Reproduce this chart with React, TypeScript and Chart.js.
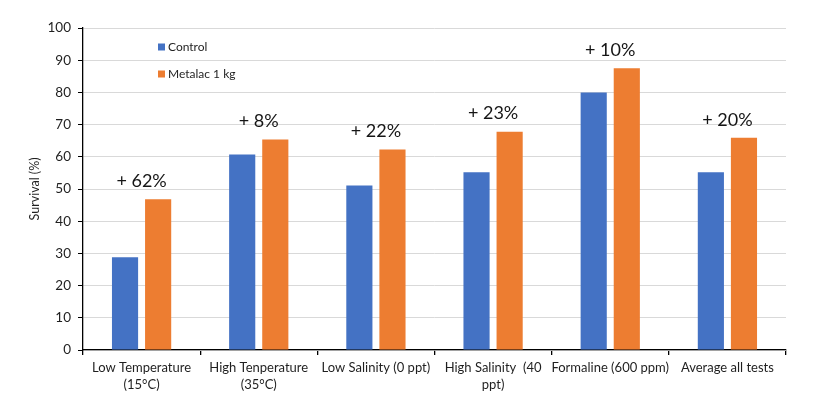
import React, { useEffect, useRef } from "react";
import { Chart, registerables } from "chart.js";

Chart.register(...registerables);

const categories: (string | string[])[] = [
  ["Low Temperature", "(15°C)"],
  ["High Tenperature", "(35°C)"],
  "Low Salinity (0 ppt)",
  ["High Salinity  (40", "ppt)"],
  "Formaline (600 ppm)",
  "Average all tests",
];
const controlValues = [28.8, 60.7, 51.1, 55.2, 80.0, 55.2];
const metalacValues = [46.8, 65.4, 62.3, 67.8, 87.5, 65.9];
const increaseLabels = ["+ 62%", "+ 8%", "+ 22%", "+ 23%", "+ 10%", "+ 20%"];
const seriesNames = ["Control", "Metalac 1 kg"];
const yTicksMax = 100;
const yTicksStep = 10;

const FONT = "Lato, 'Open Sans', sans-serif";
const TEXT = "#1f1f1f";

const insideLegend = {
  id: "insideLegend",
  afterDraw(chart: any) {
    const ctx = chart.ctx;
    ctx.save();
    ctx.font = `12px ${FONT}`;
    ctx.textBaseline = "middle";
    ctx.textAlign = "left";
    const x = 158;
    const ys = [47, 74];
    chart.data.datasets.forEach((ds: any, i: number) => {
      ctx.fillStyle = ds.backgroundColor;
      ctx.fillRect(x, ys[i] - 3.5, 7, 7);
      ctx.fillStyle = TEXT;
      ctx.fillText(ds.label, x + 10, ys[i]);
    });
    ctx.restore();
  },
};

const increaseText = {
  id: "increaseText",
  afterDatasetsDraw(chart: any) {
    const ctx = chart.ctx;
    const meta = chart.getDatasetMeta(1);
    const xScale = chart.scales.x;
    ctx.save();
    ctx.font = `18px ${FONT}`;
    ctx.fillStyle = "#151515";
    ctx.textAlign = "center";
    ctx.textBaseline = "middle";
    increaseLabels.forEach((t, i) => {
      const bar = meta.data[i];
      if (!bar) return;
      ctx.fillText(t, xScale.getPixelForValue(i), bar.y - 18);
    });
    ctx.restore();
  },
};

export default function App() {
  const ref = useRef<HTMLCanvasElement | null>(null);
  useEffect(() => {
    if (!ref.current) return;
    const chart = new Chart(ref.current, {
      type: "bar",
      data: {
        labels: categories,
        datasets: [
          {
            label: seriesNames[0],
            data: controlValues,
            backgroundColor: "#4472C4",
            categoryPercentage: 0.565,
            barPercentage: 0.79,
          },
          {
            label: seriesNames[1],
            data: metalacValues,
            backgroundColor: "#ED7D31",
            categoryPercentage: 0.565,
            barPercentage: 0.79,
          },
        ],
      },
      options: {
        responsive: false,
        animation: false,
        maintainAspectRatio: false,
        layout: { padding: { top: 28, right: 29, left: 0, bottom: 0 } },
        plugins: {
          legend: { display: false },
          tooltip: { enabled: false },
          title: { display: false },
        },
        scales: {
          x: {
            grid: {
              offset: true,
              drawOnChartArea: false,
              tickLength: 5,
              tickColor: "#000000",
              lineWidth: 1.3,
            },
            border: { color: "#000000", width: 1.3 },
            ticks: {
              color: TEXT,
              font: { family: FONT, size: 13, lineHeight: 1.33 },
              padding: 4,
              maxRotation: 0,
              autoSkip: false,
            },
            afterFit(scale: any) {
              scale.height = 55;
            },
          },
          y: {
            min: 0,
            max: yTicksMax,
            ticks: {
              stepSize: yTicksStep,
              color: TEXT,
              font: { family: FONT, size: 13.5 },
              padding: 7,
            },
            grid: {
              color: "#d9d9d9",
              tickColor: "#000000",
              tickLength: 5,
              lineWidth: 1,
            },
            border: { color: "#000000", width: 1.3 },
            title: {
              display: true,
              text: "Survival (%)",
              color: TEXT,
              font: { family: FONT, size: 12.5 },
              padding: { top: 27, bottom: 0 },
            },
            afterFit(scale: any) {
              scale.width = 83;
            },
          },
        },
      },
      plugins: [insideLegend, increaseText],
    });
    return () => chart.destroy();
  }, []);
  return (
    <div style={{ position: "fixed", left: 0, top: 0, width: 815, height: 405, background: "#ffffff" }}>
      <canvas ref={ref} width={815} height={405} style={{ width: 815, height: 405 }} />
    </div>
  );
}
